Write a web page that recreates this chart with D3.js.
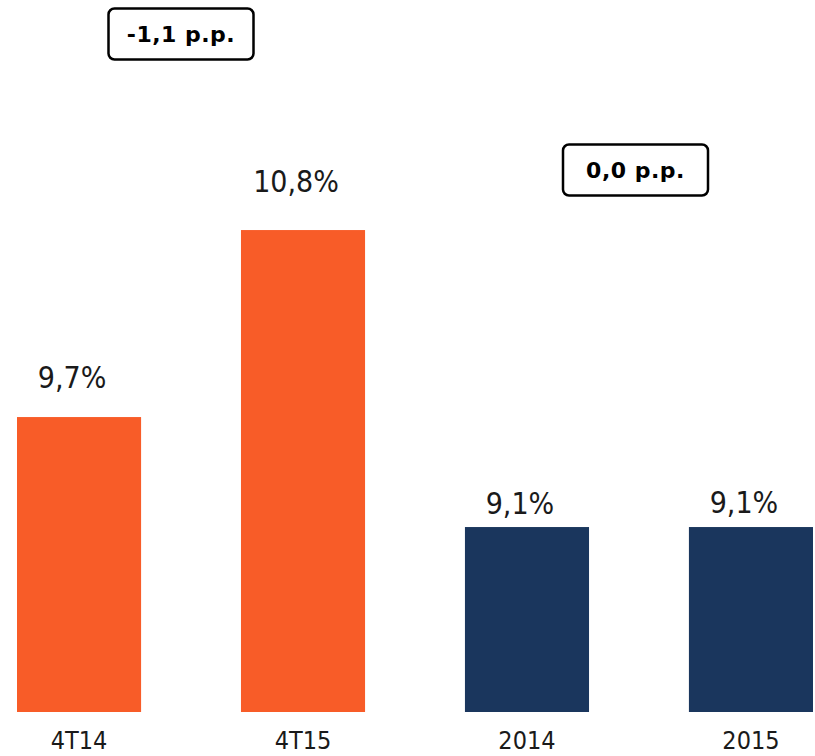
<!DOCTYPE html>
<html>
<head>
<meta charset="utf-8">
<script src="https://cdn.jsdelivr.net/npm/d3@7"></script>
<style>
  body { margin: 0; background: #fff; }
  svg { display: block; }
  .val { font-family: "DejaVu Sans Condensed", "DejaVu Sans", sans-serif; font-size: 30px; fill: #1a1a1a; }
  .cat { font-family: "DejaVu Sans Condensed", "DejaVu Sans", sans-serif; font-size: 25px; fill: #1a1a1a; }
  .pp { font-family: "DejaVu Sans", sans-serif; font-weight: bold; font-size: 22px; fill: #000; }
</style>
</head>
<body>
<svg id="chart"></svg>
<script>
var categories = ["4T14", "4T15", "2014", "2015"];
var values = [9.7, 10.8, 9.1, 9.1];
var labels = ["9,7%", "10,8%", "9,1%", "9,1%"];
var groups = ["q", "q", "y", "y"];
var deltas = ["-1,1 p.p.", "0,0 p.p."];

// label lift above bar tops, as placed in the original
var labelLift = [29, 38, 13, 14];

const width = 815, height = 756, baseY = 712;
const colors = { q: "#f85c28", y: "#1a365d" };
const pxPerPoint = 170;

const svg = d3.select("#chart").attr("width", width).attr("height", height);

const x = d3.scaleBand()
  .domain(categories)
  .range([17, 813])
  .paddingInner(0.446)
  .paddingOuter(0);

// two separate panels, each with its own value axis (same scale step)
const yQ = d3.scaleLinear().domain([7.965, 7.965 + 482 / pxPerPoint]).range([baseY, 230]);
const yY = d3.scaleLinear().domain([8.012, 8.012 + 482 / pxPerPoint]).range([baseY, 230]);
const yFor = (g) => g === "q" ? yQ : yY;

const data = categories.map((c, i) => ({ cat: c, v: values[i], label: labels[i], g: groups[i], i: i }));

svg.selectAll(".bar")
  .data(data)
  .enter()
  .append("rect")
  .attr("class", "bar")
  .attr("x", (d) => x(d.cat))
  .attr("y", (d) => yFor(d.g)(d.v))
  .attr("width", x.bandwidth())
  .attr("height", (d) => baseY - yFor(d.g)(d.v))
  .style("fill", (d) => colors[d.g]);

svg.selectAll(".val")
  .data(data)
  .enter()
  .append("text")
  .attr("class", "val")
  .attr("x", (d) => x(d.cat) + x.bandwidth() / 2 - 7)
  .attr("y", (d) => yFor(d.g)(d.v) - labelLift[d.i])
  .style("text-anchor", "middle")
  .text((d) => d.label);

svg.selectAll(".cat")
  .data(data)
  .enter()
  .append("text")
  .attr("class", "cat")
  .attr("x", (d) => x(d.cat) + x.bandwidth() / 2)
  .attr("y", 749)
  .style("text-anchor", "middle")
  .text((d) => d.cat);

// delta boxes
var boxes = [
  { text: deltas[0], cx: 181, cy: 34 },
  { text: deltas[1], cx: 635.5, cy: 170 }
];
boxes.forEach(function (b) {
  svg.append("rect")
    .attr("x", b.cx - 72.5)
    .attr("y", b.cy - 25.5)
    .attr("width", 145)
    .attr("height", 51)
    .attr("rx", 6)
    .attr("ry", 6)
    .style("fill", "#fff")
    .style("stroke", "#000")
    .style("stroke-width", 2.5);
  svg.append("text")
    .attr("class", "pp")
    .attr("x", b.cx)
    .attr("y", b.cy + 8)
    .style("text-anchor", "middle")
    .style("letter-spacing", "0.5px")
    .text(b.text);
});
</script>
</body>
</html>
